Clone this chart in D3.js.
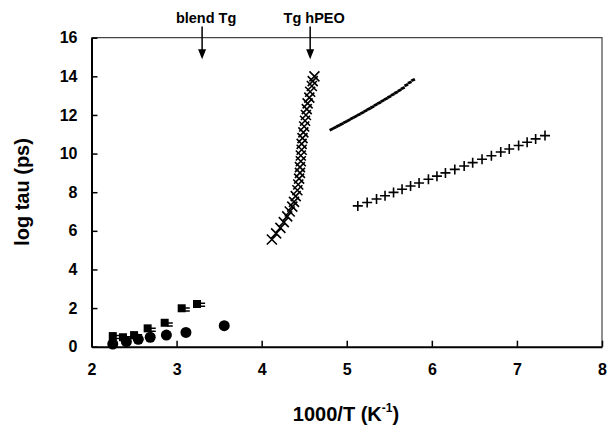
<!DOCTYPE html>
<html>
<head>
<meta charset="utf-8">
<script src="https://cdn.jsdelivr.net/npm/d3@7"></script>
<style>
  body { margin: 0; background: #fff; }
  svg { display: block; font-family: "Liberation Sans", Arial, sans-serif; font-weight: bold; }
</style>
</head>
<body>
<div id="chart"></div>
<script>
// x = 1000/T, y = log tau
const crossX = [4.12,4.17,4.22,4.26,4.30,4.33,4.36,4.38,4.40,4.42,4.43,4.44,4.45,4.45,4.46,4.46,4.47,4.47,4.48,4.49,4.50,4.51,4.52,4.53,4.54,4.56,4.57,4.59,4.60,4.62]
const crossY = [5.55,5.87,6.15,6.45,6.75,7.00,7.25,7.50,7.80,8.10,8.40,8.70,9.00,9.30,9.60,9.90,10.2,10.5,10.8,11.1,11.4,11.7,12.0,12.3,12.6,12.9,13.2,13.5,13.75,14.0]

const dashX = [4.82,4.86,4.90,4.94,4.98,5.02,5.06,5.10,5.14,5.18,5.22,5.26,5.30,5.34,5.38,5.42,5.46,5.50,5.54,5.58,5.62,5.66,5.70,5.74,5.78]
const dashY = [11.25,11.34,11.44,11.53,11.63,11.72,11.82,11.91,12.01,12.11,12.21,12.31,12.41,12.52,12.62,12.73,12.83,12.94,13.05,13.16,13.27,13.39,13.55,13.68,13.81]

const plusX = [5.13,5.24,5.35,5.45,5.55,5.65,5.75,5.85,5.96,6.06,6.16,6.27,6.38,6.48,6.59,6.70,6.81,6.91,7.02,7.12,7.22,7.33]
const plusY = [7.29,7.47,7.65,7.82,7.99,8.15,8.32,8.48,8.67,8.83,9.00,9.18,9.36,9.53,9.71,9.89,10.08,10.24,10.42,10.59,10.76,10.93]

const squareX = [2.25,2.37,2.50,2.66,2.86,3.06,3.24]
const squareY = [0.55,0.49,0.60,0.95,1.24,1.99,2.21]
const smallDashX = [2.31,2.43,2.56,2.72,2.92,3.12,3.30]
const smallDashY = [0.50,0.44,0.55,0.88,1.15,1.93,2.17]

const circleX = [2.25,2.41,2.55,2.69,2.88,3.11,3.56]
const circleY = [0.14,0.26,0.38,0.49,0.60,0.74,1.09]

const xTicks = [2,3,4,5,6,7,8]
const yTicks = [0,2,4,6,8,10,12,14,16]

const notes = [
  {label: "blend Tg", x: 3.30},
  {label: "Tg hPEO", x: 4.57}
]

const width = 608, height = 427
const margin = {top: 37.7, right: 6, bottom: 80.3, left: 91.5}

const x = d3.scaleLinear().domain([2, 8]).range([margin.left, width - margin.right])
const y = d3.scaleLinear().domain([0, 16]).range([height - margin.bottom, margin.top])

const svg = d3.select("#chart").append("svg")
    .attr("width", width)
    .attr("height", height)

// top/right frame
svg.append("path")
    .attr("d", `M${x(2)},${y(16)}H${x(8)}V${y(0)}`)
    .attr("fill", "none")
    .attr("stroke", "#444")
    .attr("stroke-width", 1.2)

const xAxis = svg.append("g")
    .attr("transform", `translate(0,${y(0)})`)
    .call(d3.axisBottom(x).tickValues(xTicks).tickFormat(d3.format("d")).tickSize(-6).tickPadding(14).tickSizeOuter(0))
xAxis.select(".domain").attr("stroke-width", 2)
xAxis.selectAll(".tick line").attr("stroke-width", 1.5)
xAxis.selectAll("text").attr("font-size", 16).attr("font-weight", "bold").attr("font-family", "Liberation Sans, Arial, sans-serif").attr("dy", "0.9em")

const yAxis = svg.append("g")
    .attr("transform", `translate(${x(2)},0)`)
    .call(d3.axisLeft(y).tickValues(yTicks).tickFormat(d3.format("d")).tickSize(-6).tickPadding(14).tickSizeOuter(0))
yAxis.select(".domain").attr("stroke-width", 2)
yAxis.selectAll(".tick line").attr("stroke-width", 1.5)
yAxis.selectAll("text").attr("font-size", 16).attr("font-weight", "bold").attr("font-family", "Liberation Sans, Arial, sans-serif")

// axis titles
const xt = svg.append("text")
    .attr("x", 346).attr("y", 421)
    .attr("text-anchor", "middle")
    .attr("font-size", 20)
xt.append("tspan").text("1000/T (K")
xt.append("tspan").attr("font-size", 12).attr("dy", -9).text("-1")
xt.append("tspan").attr("dy", 9).text(")")

svg.append("text")
    .attr("transform", `translate(29,192) rotate(-90)`)
    .attr("text-anchor", "middle")
    .attr("font-size", 20)
    .text("log tau (ps)")

// annotations with arrows
notes.forEach(n => {
  const ax = x(n.x)
  svg.append("text")
      .attr("x", ax + 4).attr("y", 22.5)
      .attr("text-anchor", "middle")
      .attr("font-size", 14.5)
      .text(n.label)
  svg.append("line")
      .attr("x1", ax).attr("x2", ax)
      .attr("y1", 26.5).attr("y2", y(14.88) - 8)
      .attr("stroke", "#000").attr("stroke-width", 1.5)
  svg.append("path")
      .attr("d", `M${ax - 4},${y(14.88) - 10}L${ax + 4},${y(14.88) - 10}L${ax},${y(14.88)}Z`)
      .attr("fill", "#000")
})

const pts = (xs, ys) => xs.map((v, i) => [v, ys[i]])

// x markers
svg.append("g").selectAll("path")
  .data(pts(crossX, crossY))
  .join("path")
    .attr("transform", d => `translate(${x(d[0])},${y(d[1])})`)
    .attr("d", "M-5,-5L5,5M-5,5L5,-5")
    .attr("stroke", "#000").attr("stroke-width", 1.6)

// dash markers
svg.append("g").selectAll("path")
  .data(pts(dashX, dashY))
  .join("path")
    .attr("transform", d => `translate(${x(d[0])},${y(d[1])}) rotate(-25)`)
    .attr("d", "M-2,0H2")
    .attr("stroke", "#000").attr("stroke-width", 2.8)

// plus markers
svg.append("g").selectAll("path")
  .data(pts(plusX, plusY))
  .join("path")
    .attr("transform", d => `translate(${x(d[0])},${y(d[1])})`)
    .attr("d", "M-5,0H5M0,-5V5")
    .attr("stroke", "#000").attr("stroke-width", 1.6)

// small dashes beside squares
svg.append("g").selectAll("path")
  .data(pts(smallDashX, smallDashY))
  .join("path")
    .attr("transform", d => `translate(${x(d[0])},${y(d[1])})`)
    .attr("d", "M-3,-1.5H3M-3,1.5H3")
    .attr("stroke", "#000").attr("stroke-width", 1.4)

// squares
svg.append("g").selectAll("rect")
  .data(pts(squareX, squareY))
  .join("rect")
    .attr("x", d => x(d[0]) - 4).attr("y", d => y(d[1]) - 4)
    .attr("width", 8).attr("height", 8)
    .attr("fill", "#000")

// circles
svg.append("g").selectAll("circle")
  .data(pts(circleX, circleY))
  .join("circle")
    .attr("cx", d => x(d[0])).attr("cy", d => y(d[1]))
    .attr("r", 5.5)
    .attr("fill", "#000")
</script>
</body>
</html>
